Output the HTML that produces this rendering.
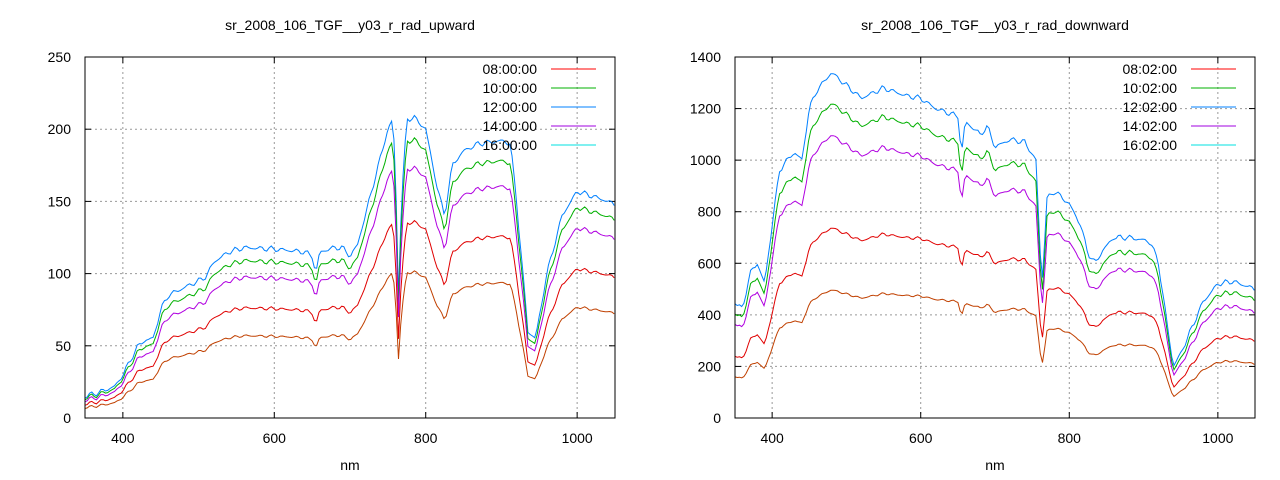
<!DOCTYPE html>
<html><head><meta charset="utf-8"><style>
html,body{margin:0;padding:0;background:#fff;}
svg{display:block;font-family:"Liberation Sans",sans-serif;}
</style></head><body>
<svg id="s" width="1280" height="480" xmlns="http://www.w3.org/2000/svg"></svg>
<script>
const S=document.getElementById('s');let h='';
function plot(o){
 const X=v=>o.x0+(v-350)/700*(o.x1-o.x0), Y=v=>o.y1-v/o.ymax*(o.y1-o.y0);
 h+=`<text x="${(o.x0+o.x1)/2}" y="30" font-size="14" text-anchor="middle">${o.title}</text>`;
 for(let t=400;t<=1000;t+=200){const x=X(t);
  h+=`<line x1="${x}" y1="${o.y0}" x2="${x}" y2="${o.y1}" stroke="#999" stroke-dasharray="2,3" stroke-width="1"/>`;
  h+=`<line x1="${x}" y1="${o.y1}" x2="${x}" y2="${o.y1-6}" stroke="#000"/><line x1="${x}" y1="${o.y0}" x2="${x}" y2="${o.y0+6}" stroke="#000"/>`;
  h+=`<text x="${x}" y="${o.y1+25}" font-size="14" text-anchor="middle">${t}</text>`;}
 for(let t=0;t<=o.ymax;t+=o.ystep){const y=Y(t);
  if(t>0&&t<o.ymax)h+=`<line x1="${o.x0}" y1="${y}" x2="${o.x1}" y2="${y}" stroke="#999" stroke-dasharray="2,3"/>`;
  h+=`<line x1="${o.x0}" y1="${y}" x2="${o.x0+6}" y2="${y}" stroke="#000"/><line x1="${o.x1}" y1="${y}" x2="${o.x1-6}" y2="${y}" stroke="#000"/>`;
  h+=`<text x="${o.x0-14}" y="${y+5}" font-size="14" text-anchor="end">${t}</text>`;}
 h+=`<text x="${(o.x0+o.x1)/2}" y="470" font-size="14" text-anchor="middle">nm</text>`;
 const pts=o.pts;
 function base(n){for(let i=0;i<pts.length-1;i++){if(n<=pts[i+1][0]){const f=(n-pts[i][0])/(pts[i+1][0]-pts[i][0]);return pts[i][1]+f*(pts[i+1][1]-pts[i][1]);}}return pts[pts.length-1][1];}
 const cols=['#0080ff','#00b000','#b000e0','#e00000','#c04000'];
 const lo=o.lo,hi=o.hi;
 cols.forEach((c,k)=>{let d='';
  for(let n=350;n<=1050;n+=3){const t=(n-350)/700;const r=lo[k]+(hi[k]-lo[k])*t;
   let v=base(n)*r;v+=Math.sin(n*1.7)*o.ymax*0.005*r+Math.sin(n*0.53)*o.ymax*0.003*r;
   v=Math.max(0,v);d+=(d?'L':'M')+X(n).toFixed(1)+','+Y(v).toFixed(1);}
  h+=`<path d="${d}" fill="none" stroke="${c}" stroke-width="1"/>`;});
 h+=`<rect x="${o.x0}" y="${o.y0}" width="${o.x1-o.x0}" height="${o.y1-o.y0}" fill="none" stroke="#000"/>`;
 const lc=['#ff0000','#00b000','#0080ff','#a000e0','#00e0e0'];
 o.leg.forEach((l,i)=>{const y=o.y0+12+i*19;
  h+=`<text x="${o.x1-78}" y="${y+5}" font-size="14" text-anchor="end">${l}</text><line x1="${o.x1-64}" y1="${y}" x2="${o.x1-19}" y2="${y}" stroke="${lc[i]}"/>`;});
}
plot({x0:85,x1:615,y0:57,y1:418,ymax:250,ystep:50,title:'sr_2008_106_TGF__y03_r_rad_upward',
 leg:['08:00:00','10:00:00','12:00:00','14:00:00','16:00:00'],
 lo:[1,0.92,0.82,0.64,0.48],hi:[1,0.93,0.84,0.66,0.49],
 pts:[[350,15],[370,18],[390,22],[400,30],[410,40],[420,50],[430,54],[440,55],[450,75],[460,85],[480,90],[500,95],[510,98],[520,108],[540,115],[560,118],[600,117],[640,115],[650,112],[655,100],[660,115],[680,118],[690,118],[700,112],[710,120],[720,140],[740,180],[750,200],[757,207],[761,150],[764,85],[768,150],[775,207],[785,208],[800,200],[815,160],[825,140],[835,175],[850,185],[870,190],[900,192],[912,190],[920,150],[935,60],[945,55],[960,100],[980,140],[1000,157],[1030,152],[1050,148]]});
plot({x0:735,x1:1255,y0:57,y1:418,ymax:1400,ystep:200,title:'sr_2008_106_TGF__y03_r_rad_downward',
 leg:['08:02:00','10:02:00','12:02:00','14:02:00','16:02:00'],
 lo:[1,0.91,0.82,0.54,0.36],hi:[1,0.92,0.82,0.6,0.42],
 pts:[[350,450],[360,420],[370,560],[380,600],[390,520],[400,750],[410,960],[420,1000],[430,1030],[440,1000],[450,1200],[460,1270],[480,1340],[500,1290],[520,1240],[550,1280],[580,1250],[600,1240],[620,1200],[640,1180],[650,1170],[655,1020],[660,1150],[680,1100],[690,1130],[700,1050],[720,1080],[740,1070],[755,1000],[760,700],[763,500],[770,850],[780,880],[800,830],[815,750],[825,640],[835,600],[845,650],[860,700],[880,700],[900,690],[910,680],[920,600],[935,300],[940,200],[950,250],[980,450],[1000,520],[1020,530],[1050,500]]});
S.innerHTML=h;
</script>
</body></html>
